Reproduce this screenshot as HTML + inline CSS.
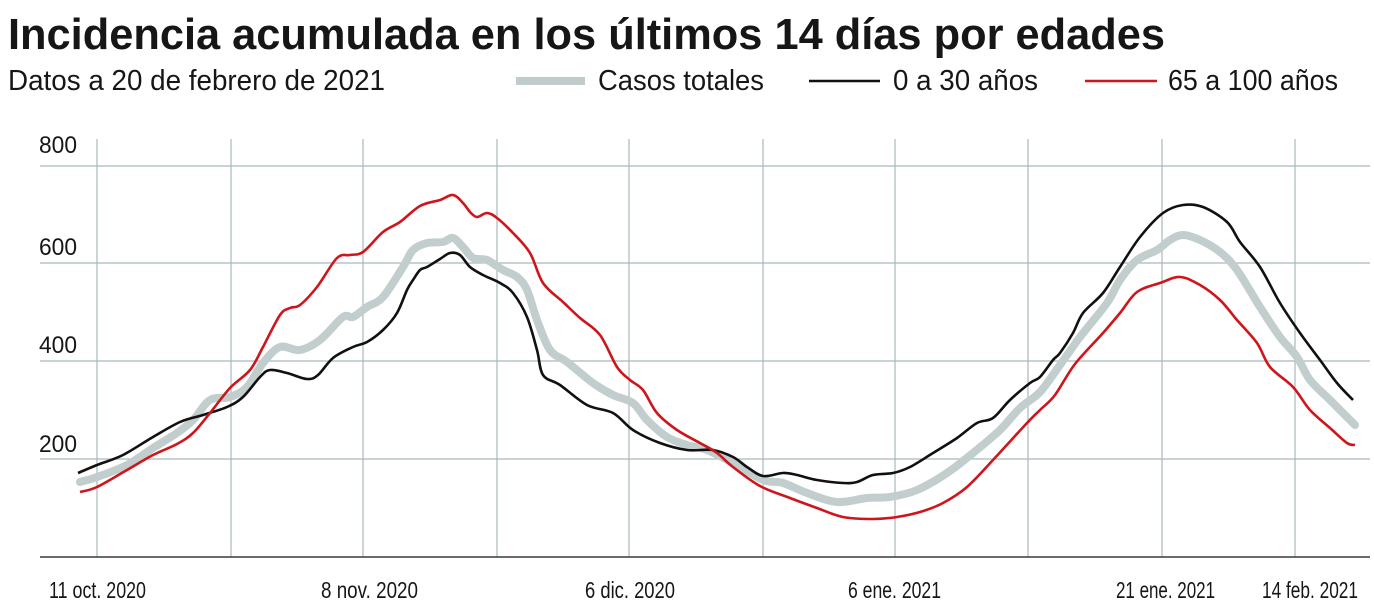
<!DOCTYPE html>
<html>
<head>
<meta charset="utf-8">
<style>
html,body{margin:0;padding:0;background:#fff;}
svg{display:block;}
text{font-family:"Liberation Sans",sans-serif;fill:#161616;}
</style>
</head>
<body>
<svg id="chart" width="1374" height="608" viewBox="0 0 1374 608" xmlns="http://www.w3.org/2000/svg">
<rect width="1374" height="608" fill="#fff"/>
<!-- Title -->
<text x="8" y="49" font-size="44" font-weight="bold" textLength="1157" lengthAdjust="spacingAndGlyphs">Incidencia acumulada en los últimos 14 días por edades</text>
<text x="8" y="90" font-size="29" textLength="377" lengthAdjust="spacingAndGlyphs">Datos a 20 de febrero de 2021</text>
<!-- Legend -->
<line x1="516" y1="81" x2="585" y2="81" stroke="#bfcccb" stroke-width="8"/>
<text x="598" y="90" font-size="29" textLength="166" lengthAdjust="spacingAndGlyphs">Casos totales</text>
<line x1="809" y1="81" x2="880" y2="81" stroke="#111" stroke-width="2.5"/>
<text x="893" y="90" font-size="29" textLength="145" lengthAdjust="spacingAndGlyphs">0 a 30 años</text>
<line x1="1085" y1="81" x2="1157" y2="81" stroke="#cf151c" stroke-width="2.5"/>
<text x="1168" y="90" font-size="29" textLength="170" lengthAdjust="spacingAndGlyphs">65 a 100 años</text>

<!-- Grid -->
<g stroke="#a9b8ba" stroke-width="1.2" fill="none">
<line x1="40" y1="166" x2="1370" y2="166"/>
<line x1="40" y1="263" x2="1370" y2="263"/>
<line x1="40" y1="361" x2="1370" y2="361"/>
<line x1="40" y1="459" x2="1370" y2="459"/>
<line x1="97" y1="139" x2="97" y2="557"/>
<line x1="231" y1="139" x2="231" y2="557"/>
<line x1="363" y1="139" x2="363" y2="557"/>
<line x1="497" y1="139" x2="497" y2="557"/>
<line x1="629" y1="139" x2="629" y2="557"/>
<line x1="763" y1="139" x2="763" y2="557"/>
<line x1="895" y1="139" x2="895" y2="557"/>
<line x1="1028" y1="139" x2="1028" y2="557"/>
<line x1="1162" y1="139" x2="1162" y2="557"/>
<line x1="1295" y1="139" x2="1295" y2="557"/>
</g>
<line x1="40" y1="557" x2="1370" y2="557" stroke="#3a3a3a" stroke-width="1.6"/>

<!-- Y labels -->
<text x="39" y="153" font-size="24" textLength="38" lengthAdjust="spacingAndGlyphs">800</text>
<text x="39" y="255" font-size="24" textLength="38" lengthAdjust="spacingAndGlyphs">600</text>
<text x="39" y="353" font-size="24" textLength="38" lengthAdjust="spacingAndGlyphs">400</text>
<text x="39" y="452" font-size="24" textLength="38" lengthAdjust="spacingAndGlyphs">200</text>

<!-- X labels -->
<text x="49" y="598" font-size="23" textLength="97" lengthAdjust="spacingAndGlyphs">11 oct. 2020</text>
<text x="321" y="598" font-size="23" textLength="97" lengthAdjust="spacingAndGlyphs">8 nov. 2020</text>
<text x="585" y="598" font-size="23" textLength="90" lengthAdjust="spacingAndGlyphs">6 dic. 2020</text>
<text x="848" y="598" font-size="23" textLength="93" lengthAdjust="spacingAndGlyphs">6 ene. 2021</text>
<text x="1116" y="598" font-size="23" textLength="99" lengthAdjust="spacingAndGlyphs">21 ene. 2021</text>
<text x="1262" y="598" font-size="23" textLength="96" lengthAdjust="spacingAndGlyphs">14 feb. 2021</text>

<!-- Series -->
<polyline class="sm" fill="none" stroke="#c1cecd" stroke-width="8" stroke-linecap="round" stroke-linejoin="round"
points="80,482 97,477 127,465 153,448 177,433 193,420 210,400 230,397 247,387 263,363 280,347 300,350 320,340 343,317 353,317 367,307 383,297 403,267 413,250 427,243 443,242 453,238 463,247 473,258 487,260 503,270 517,277 527,290 537,320 550,350 567,362 593,383 613,395 633,403 647,420 667,437 687,445 707,450 733,463 763,480 783,483 807,493 837,502 867,498 890,497 917,490 947,473 973,453 1000,430 1020,408 1040,392 1060,365 1080,337 1107,303 1120,280 1137,260 1157,250 1170,240 1183,235 1200,240 1220,252 1237,270 1260,307 1280,337 1297,357 1310,380 1330,400 1355,425"/>

<polyline class="sm" fill="none" stroke="#111" stroke-width="2.6" stroke-linejoin="round"
points="78,473 97,465 123,455 153,437 180,422 203,415 227,407 243,397 260,377 270,370 287,373 307,379 318,375 333,358 353,347 367,342 383,330 397,313 407,290 413,280 420,270 427,267 440,259 450,253 460,255 470,267 483,275 500,283 513,293 527,317 537,350 543,375 560,385 587,405 613,413 633,430 660,443 687,450 713,450 733,457 747,467 763,476 783,473 797,475 817,480 843,483 857,482 873,475 893,473 910,467 933,453 957,438 977,423 993,418 1010,400 1030,383 1040,377 1053,360 1060,353 1073,333 1083,313 1103,293 1120,267 1140,237 1163,213 1183,205 1203,207 1227,222 1240,242 1260,267 1280,303 1300,333 1320,360 1337,383 1353,400"/>

<polyline class="sm" fill="none" stroke="#cf151c" stroke-width="2.6" stroke-linejoin="round"
points="80,492 97,487 127,470 153,455 177,444 193,433 210,413 230,388 250,370 263,347 280,315 290,308 300,305 317,287 337,258 350,255 363,252 383,232 400,222 420,206 440,200 453,195 463,203 470,212 477,217 487,213 497,218 513,233 530,253 543,283 563,302 580,318 600,335 617,367 630,380 643,390 657,413 677,430 700,443 717,453 733,467 760,486 790,498 817,508 843,517 873,519 897,517 920,512 943,503 967,487 993,460 1027,423 1040,410 1055,395 1075,364 1103,333 1120,313 1137,292 1160,283 1180,277 1200,285 1220,300 1237,320 1257,343 1270,367 1293,387 1310,410 1330,428 1347,443 1355,445"/>
</svg>
<script>
(function(){
  var NS="http://www.w3.org/2000/svg";
  var pls=document.querySelectorAll("polyline.sm");
  for(var k=0;k<pls.length;k++){
    var pl=pls[k];
    var raw=pl.getAttribute("points").trim().split(/\s+/);
    var p=raw.map(function(s){var a=s.split(",");return [parseFloat(a[0]),parseFloat(a[1])];});
    var d="M"+p[0][0]+","+p[0][1];
    for(var i=0;i<p.length-1;i++){
      var p0=p[i-1]||p[i],p1=p[i],p2=p[i+1],p3=p[i+2]||p2;
      var c1x=p1[0]+(p2[0]-p0[0])/6,c1y=p1[1]+(p2[1]-p0[1])/6;
      var c2x=p2[0]-(p3[0]-p1[0])/6,c2y=p2[1]-(p3[1]-p1[1])/6;
      d+=" C"+c1x.toFixed(1)+","+c1y.toFixed(1)+" "+c2x.toFixed(1)+","+c2y.toFixed(1)+" "+p2[0]+","+p2[1];
    }
    var path=document.createElementNS(NS,"path");
    path.setAttribute("d",d);
    ["fill","stroke","stroke-width","stroke-linecap","stroke-linejoin"].forEach(function(a){
      var v=pl.getAttribute(a); if(v!==null) path.setAttribute(a,v);
    });
    pl.parentNode.replaceChild(path,pl);
  }
})();
</script>
</body>
</html>
